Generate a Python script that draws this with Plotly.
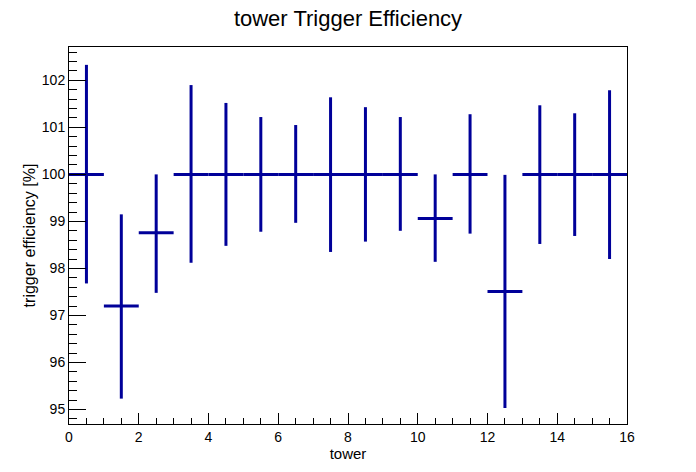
import plotly.graph_objects as go

towers = [0.5, 1.5, 2.5, 3.5, 4.5, 5.5, 6.5, 7.5, 8.5, 9.5, 10.5, 11.5, 12.5, 13.5, 14.5, 15.5]
efficiency = [100.0, 97.20, 98.76, 100.0, 100.0, 100.0, 100.0, 100.0, 100.0, 100.0, 99.06, 100.0, 97.51, 100.0, 100.0, 100.0]
upper = [102.33, 99.15, 100.0, 101.90, 101.52, 101.22, 101.05, 101.64, 101.43, 101.22, 100.0, 101.28, 99.99, 101.47, 101.30, 101.79]
lower = [97.68, 95.23, 97.48, 98.12, 98.48, 98.78, 98.97, 98.35, 98.57, 98.80, 98.14, 98.74, 95.03, 98.52, 98.69, 98.20]
bin_half_width = [0.5] * 16

err_up = [u - v for u, v in zip(upper, efficiency)]
err_dn = [v - l for v, l in zip(efficiency, lower)]

color = "#000099"
font = "Liberation Sans, Arial, Helvetica, sans-serif"

fig = go.Figure()
fig.add_trace(go.Scatter(
    x=towers, y=efficiency, mode="markers",
    marker=dict(size=0.1, color=color),
    error_x=dict(type="data", array=bin_half_width, symmetric=True, width=0, thickness=3, color=color),
    error_y=dict(type="data", array=err_up, arrayminus=err_dn, symmetric=False, width=0, thickness=3, color=color),
    showlegend=False, hoverinfo="x+y",
))

fig.update_layout(
    width=696, height=472,
    margin=dict(l=69, r=69, t=47, b=48, autoexpand=False),
    paper_bgcolor="white", plot_bgcolor="white",
    font=dict(family=font, color="black", size=14),
    title=dict(text="tower Trigger Efficiency", x=0.5, xanchor="center", y=1 - 18 / 472, yanchor="middle",
               font=dict(size=22, family=font)),
    xaxis=dict(
        range=[0, 16], dtick=2, tick0=0, ticks="inside", ticklen=11, tickwidth=1, tickcolor="black",
        minor=dict(dtick=0.5, ticks="inside", ticklen=6, tickcolor="black"),
        showline=True, linecolor="black", linewidth=1, mirror=True, showgrid=False, zeroline=False,
        title=dict(text="tower", font=dict(size=15), standoff=3),
        tickfont=dict(size=14),
    ),
    yaxis=dict(
        range=[94.69, 102.71], dtick=1, tick0=95, ticks="inside", ticklen=17, tickwidth=1, tickcolor="black",
        minor=dict(dtick=0.2, ticks="inside", ticklen=8, tickcolor="black"),
        showline=True, linecolor="black", linewidth=1, mirror=True, showgrid=False, zeroline=False,
        title=dict(text="trigger efficiency [%]", font=dict(size=16), standoff=2),
        tickfont=dict(size=14),
    ),
)

# remove the browser's default page margin so the figure sits at the window's top-left corner
fig.write_html("out.html", config={"displayModeBar": False},
               post_script="document.body.style.margin='0';")
